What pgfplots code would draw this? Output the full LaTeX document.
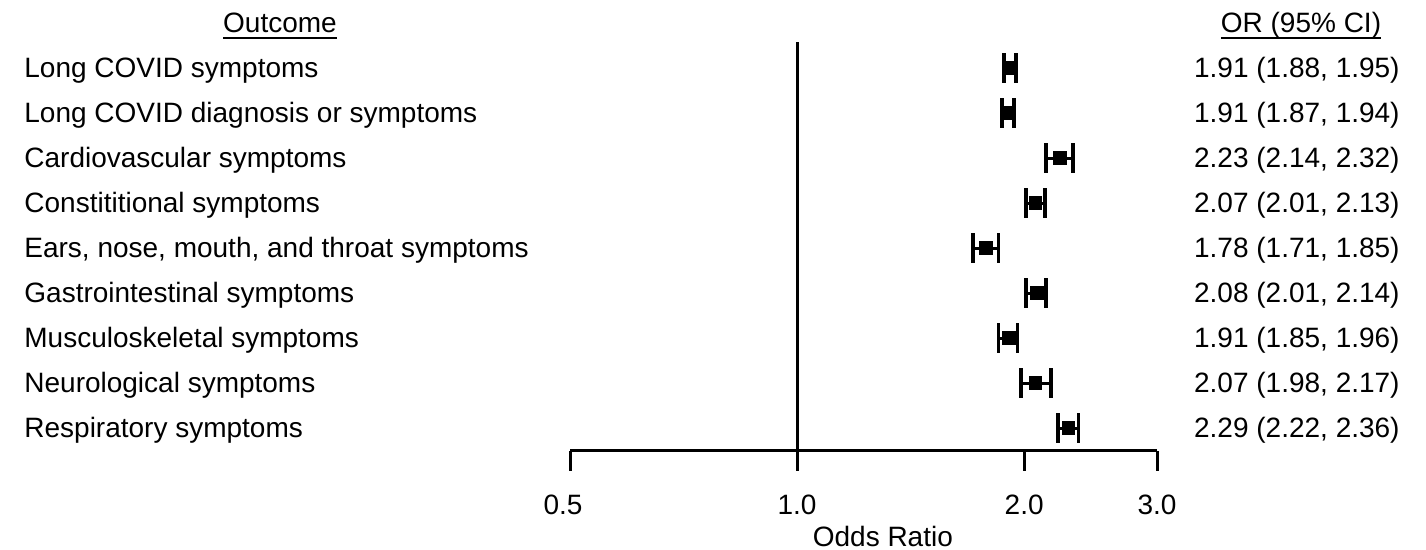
\documentclass[border=0pt]{standalone}
\usepackage{pgfplots}
\pgfplotsset{compat=1.18}
\usepackage{fontspec}
\setmainfont{Liberation Sans}
\newcommand\ul[1]{\setbox0\hbox{#1}\rlap{\rule[-3.2pt]{\wd0}{1.1pt}}\box0}
\begin{document}
\begin{tikzpicture}[font=\fontsize{14pt}{16pt}\selectfont]
\useasboundingbox (0pt,0pt) rectangle (713pt,-275pt);
\begin{axis}[
  at={(285pt,-225.5pt)}, anchor=south west,
  scale only axis, width=293.5pt, height=204.5pt,
  xmode=log, xmin=0.5, xmax=3, ymin=0.489, ymax=9.578,
  axis x line=bottom, axis y line=none,
  x axis line style={-, line width=1.5pt, black},
  xtick={0.5,1,2,3}, xticklabels={\hspace*{-7pt}0.5,1.0,2.0,3.0},
  xminorticks=false,
  tick align=outside, major tick length=10pt,
  xtick style={line width=1.5pt, black},
  xticklabel style={anchor=base, yshift=-22pt, font=\fontsize{14pt}{16pt}\selectfont},
  ytick=\empty,
  clip=false,
  xlabel={Odds Ratio},
  xlabel style={at={(rel axis cs:0.533,0)}, anchor=base, yshift=-48pt, font=\fontsize{14pt}{16pt}\selectfont},
]
\addplot[black, line width=1.5pt] coordinates {(1,0.489) (1,9.578)};
\pgfplotsset{cistyle/.style={black, line width=1.5pt, mark=|, mark size=7.5pt, mark options={line width=1.9pt}}}
\addplot[cistyle] coordinates {(1.88,9) (1.95,9)};
\addplot[cistyle] coordinates {(1.87,8) (1.94,8)};
\addplot[cistyle] coordinates {(2.14,7) (2.32,7)};
\addplot[cistyle] coordinates {(2.01,6) (2.13,6)};
\addplot[cistyle] coordinates {(1.71,5) (1.85,5)};
\addplot[cistyle] coordinates {(2.01,4) (2.14,4)};
\addplot[cistyle] coordinates {(1.85,3) (1.96,3)};
\addplot[cistyle] coordinates {(1.98,2) (2.17,2)};
\addplot[cistyle] coordinates {(2.22,1) (2.36,1)};
\addplot[only marks, mark=square*, mark size=3.1pt, black, mark options={fill=black, line width=0.4pt}] coordinates {
(1.91,9) (1.91,8) (2.23,7) (2.07,6) (1.78,5) (2.08,4) (1.91,3) (2.07,2) (2.29,1)};
\end{axis}
\node[anchor=base] at (140pt,-16.5pt) {\ul{Outcome}};
\node[anchor=base] at (650.5pt,-16.5pt) {\ul{OR (95\% CI)}};
\foreach \t [count=\i] in {Long COVID symptoms, Long COVID diagnosis or symptoms, Cardiovascular symptoms, Constititional symptoms, {Ears, nose, mouth, and throat symptoms}, Gastrointestinal symptoms, Musculoskeletal symptoms, Neurological symptoms, Respiratory symptoms}{
  \node[anchor=base west, inner sep=0pt] at (12pt,{-39pt-22.5pt*(\i-1)}) {\t};
}
\foreach \t [count=\i] in {{1.91 (1.88, 1.95)}, {1.91 (1.87, 1.94)}, {2.23 (2.14, 2.32)}, {2.07 (2.01, 2.13)}, {1.78 (1.71, 1.85)}, {2.08 (2.01, 2.14)}, {1.91 (1.85, 1.96)}, {2.07 (1.98, 2.17)}, {2.29 (2.22, 2.36)}}{
  \node[anchor=base east, inner sep=0pt] at (700pt,{-39pt-22.5pt*(\i-1)}) {\t};
}
\end{tikzpicture}
\end{document}
